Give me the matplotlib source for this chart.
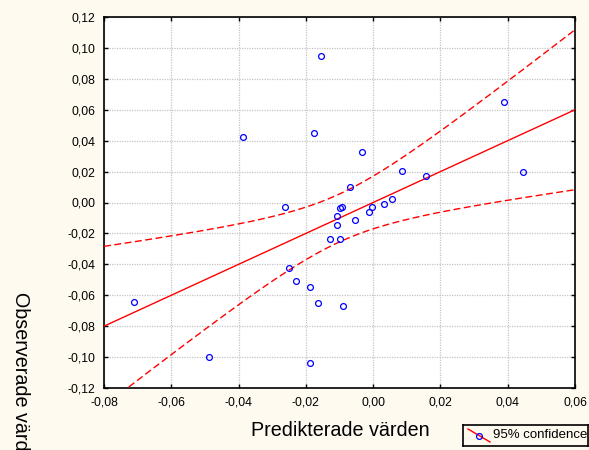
import matplotlib
matplotlib.use("Agg")
import matplotlib.pyplot as plt
import numpy as np
from matplotlib.ticker import FuncFormatter

plt.rcParams['font.family'] = ['Liberation Sans', 'DejaVu Sans']

# predicted vs observed values
predicted = [-0.0712, -0.0487, -0.0386, -0.0154, -0.0176, -0.0262, -0.0099, -0.0093,
             -0.0108, -0.0108, -0.0128, -0.0099, -0.0250, -0.0228, -0.0188, -0.0165,
             -0.0090, -0.0188, -0.0053, -0.0012, -0.0004, 0.0033, 0.0056, -0.0034,
             -0.0068, 0.0086, 0.0157, 0.0389, 0.0445]
observed = [-0.0642, -0.1000, 0.0424, 0.0948, 0.0450, -0.0031, -0.0037, -0.0031,
            -0.0087, -0.0144, -0.0234, -0.0234, -0.0422, -0.0510, -0.0545, -0.0650,
            -0.0668, -0.1039, -0.0111, -0.0063, -0.0031, -0.0008, 0.0025, 0.0327,
            0.0100, 0.0204, 0.0173, 0.0652, 0.0197]

# fitted line (observed on predicted) and t value for 95%, df = n-2
fit_slope = 1.0
fit_intercept = 0.0
t_95 = 2.052

x_ticks = [-0.08, -0.06, -0.04, -0.02, 0.00, 0.02, 0.04, 0.06]
y_ticks = [-0.12, -0.10, -0.08, -0.06, -0.04, -0.02, 0.00, 0.02, 0.04, 0.06, 0.08, 0.10, 0.12]

bg = '#fffaf0'
W, H = 589, 450

x = np.array(predicted)
y = np.array(observed)
n = len(x)
resid = y - (fit_intercept + fit_slope * x)
s = np.sqrt(np.sum(resid**2) / (n - 2))
sxx = np.sum((x - x.mean())**2)

xs = np.linspace(x_ticks[0], x_ticks[-1], 200)
ys = fit_intercept + fit_slope * xs
hw = t_95 * s * np.sqrt(1.0 / n + (xs - x.mean())**2 / sxx)

fig = plt.figure(figsize=(W / 100, H / 100), dpi=100, facecolor=bg)
ax = fig.add_axes([104 / W, (H - 388) / H, 471 / W, 371 / H])
ax.set_facecolor('white')

ax.plot(xs, ys, color='red', lw=1.0, zorder=3)
ax.plot(xs, ys + hw, color='red', lw=1.0, ls=(0, (5, 2.5)), zorder=3)
ax.plot(xs, ys - hw, color='red', lw=1.0, ls=(0, (5, 2.5)), zorder=3)
ax.plot(x, y, 'o', ms=4.2, mfc='none', mec='blue', mew=0.9, zorder=4, clip_on=False)

ax.set_xlim(x_ticks[0], x_ticks[-1])
ax.set_ylim(y_ticks[0], y_ticks[-1])
ax.set_xticks(x_ticks)
ax.set_yticks(y_ticks)
comma = FuncFormatter(lambda v, p: f"{v:.2f}".replace('.', ',').replace('-0,00', '0,00'))
ax.xaxis.set_major_formatter(comma)
ax.yaxis.set_major_formatter(comma)
ax.tick_params(direction='in', length=3, width=1, labelsize=8.8, top=True, right=True,
               colors='black')
ax.tick_params(axis='y', pad=6)
ax.tick_params(axis='x', pad=6)
ax.grid(True, color='#c4c4c4', ls=(0, (1, 1)), lw=0.9, zorder=0)
for sp in ax.spines.values():
    sp.set_linewidth(1.2)

fig.text(340 / W, (H - 431) / H, 'Predikterade värden', fontsize=14.2,
         ha='center', va='center')
fig.text(20 / W, (H - 292) / H, 'Observerade värden', fontsize=14.2,
         rotation=270, ha='center', va='top')

# legend box
lg = fig.add_axes([463 / W, (H - 446) / H, 125 / W, 21 / H])
lg.set_xlim(0, 125)
lg.set_ylim(0, 21)
lg.set_xticks([])
lg.set_yticks([])
lg.set_facecolor(bg)
for sp in lg.spines.values():
    sp.set_linewidth(1.2)
lg.plot([5, 27], [17, 4], color='red', lw=1.0)
lg.plot([16], [10.5], 'o', ms=4.2, mfc='none', mec='blue', mew=0.9)
lg.text(30, 10.5, '95% confidence', fontsize=9.5, va='center', ha='left')

fig.savefig('out.png', dpi=100, facecolor=bg)
